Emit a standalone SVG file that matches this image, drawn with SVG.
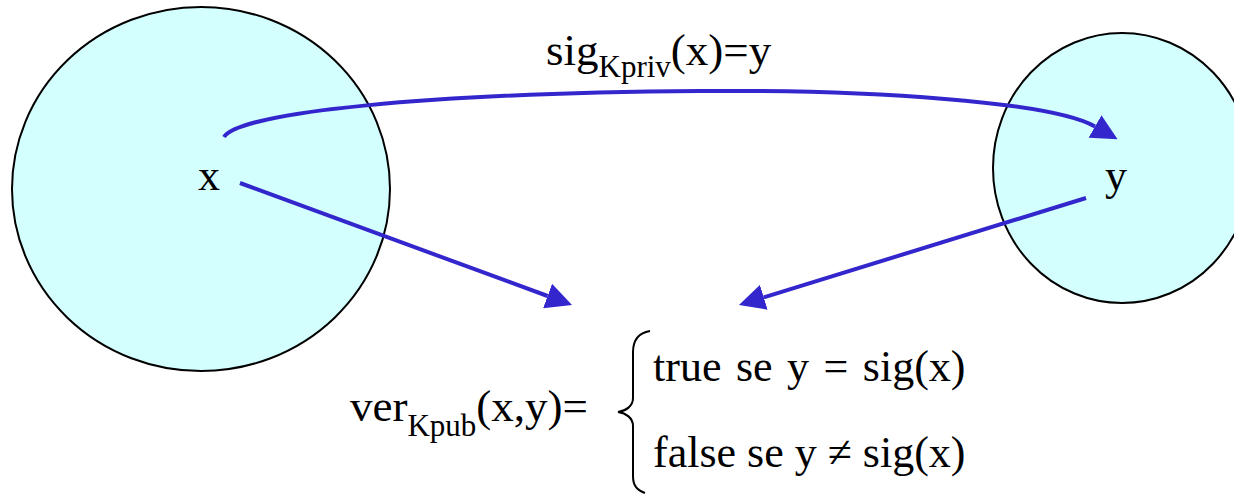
<svg xmlns="http://www.w3.org/2000/svg" width="1234" height="494" viewBox="0 0 1234 494">
<defs>
<style>
.set{fill:#D3FFFF;stroke:#000;stroke-width:2}
.conn{fill:none;stroke:#3326CC;stroke-width:4;marker-end:url(#ah)}
.t{font-family:"Liberation Serif","Times New Roman",serif;font-size:44px;fill:#000}
.lbl{font-size:45px}
.sub{font-size:31px}
.brace{fill:none;stroke:#000;stroke-width:2}
</style>
<marker id="ah" markerUnits="userSpaceOnUse" markerWidth="26" markerHeight="26" viewBox="0 0 26 26" refX="0" refY="13" orient="auto">
<path d="M0,0 L26,13 L0,26 z" fill="#3326CC"/>
</marker>
</defs>
<rect width="1234" height="494" fill="#fff"/>
<g id="setX">
<ellipse class="set" cx="201" cy="189" rx="189" ry="182"/>
<text class="t" x="198" y="190">x</text>
</g>
<g id="setY">
<ellipse class="set" cx="1122" cy="168" rx="129" ry="135"/>
<text class="t" x="1105" y="190">y</text>
</g>
<g id="connectors">
<path class="conn" d="M224,137 C240,112 430,93 700,91 C870,89.7 1051,101.5 1095,126.5"/>
<path class="conn" d="M240,183 L547.6,296"/>
<path class="conn" d="M1086,198 L763.8,297.3"/>
</g>
<g id="sigLabel">
<text class="t lbl" x="546" y="65">sig<tspan class="sub" dy="12">Kpriv</tspan><tspan dy="-12">(x)=y</tspan></text>
</g>
<g id="verLabel">
<text class="t lbl" x="350" y="421">ver<tspan class="sub" dy="15">Kpub</tspan><tspan dy="-15">(x,y)=</tspan></text>
<path class="brace" d="M650,331 C638,333 633,340 633,352 L633,398 C633,406 626,411 618,412 C626,413 633,418 633,426 L633,476 C633,486 637,490 645,493"/>
<text class="t" x="653" y="381" font-size="45" word-spacing="3.5">true se y = sig(x)</text>
<text class="t" x="653" y="467">false se y ≠ sig(x)</text>
</g>
</svg>
